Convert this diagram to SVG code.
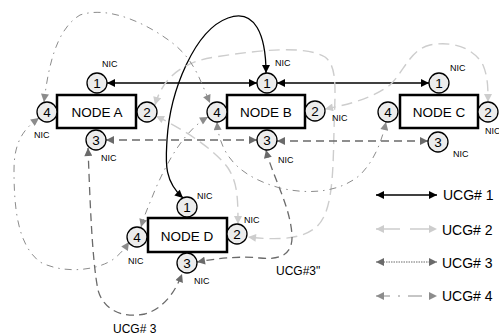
<svg xmlns="http://www.w3.org/2000/svg" width="499" height="336" viewBox="0 0 499 336">
  <style>
    text { font-family: "Liberation Sans", Arial, sans-serif; fill: #000; }
    .box { fill: #fff; stroke: #000; stroke-width: 2.5; }
    .nic { fill: #ececec; stroke: #000; stroke-width: 1.3; }
    .num { font-size: 13.5px; text-anchor: middle; }
    .name { font-size: 13.5px; text-anchor: middle; }
    .lbl { font-size: 9px; }
    .key { font-size: 14px; }
    .tag { font-size: 12px; }
    .u1 { fill: none; stroke: #000; stroke-width: 1.3; marker-start: url(#a1); marker-end: url(#a1); }
    .u2 { fill: none; stroke: #cdcdcd; stroke-width: 1.4; stroke-dasharray: 11 6; marker-start: url(#a2); marker-end: url(#a2); }
    .u3 { fill: none; stroke: #6a6a6a; stroke-width: 1.3; stroke-dasharray: 8 5; marker-start: url(#a3); marker-end: url(#a3); }
    .u4 { fill: none; stroke: #8c8c8c; stroke-width: 1; stroke-dasharray: 7 5 1.5 5; marker-start: url(#a4); marker-end: url(#a4); }
  </style>
  <defs>
    <marker id="a1" viewBox="0 0 10 10" refX="10" refY="5" markerWidth="10" markerHeight="8" markerUnits="userSpaceOnUse" orient="auto-start-reverse">
      <path d="M0,0 L10,5 L0,10 z" fill="#000"/>
    </marker>
    <marker id="a2" viewBox="0 0 10 10" refX="10" refY="5" markerWidth="10" markerHeight="8" markerUnits="userSpaceOnUse" orient="auto-start-reverse">
      <path d="M0,0 L10,5 L0,10 z" fill="#cdcdcd"/>
    </marker>
    <marker id="a3" viewBox="0 0 10 10" refX="10" refY="5" markerWidth="10" markerHeight="8" markerUnits="userSpaceOnUse" orient="auto-start-reverse">
      <path d="M0,0 L10,5 L0,10 z" fill="#6a6a6a"/>
    </marker>
    <marker id="a4" viewBox="0 0 10 10" refX="10" refY="5" markerWidth="10" markerHeight="8" markerUnits="userSpaceOnUse" orient="auto-start-reverse">
      <path d="M0,0 L10,5 L0,10 z" fill="#8c8c8c"/>
    </marker>
  </defs>

  <g id="connectors">
    <!-- UCG#1 -->
    <path class="u1" d="M107,83 H257"/>
    <path class="u1" d="M277,83 H429"/>
    <path class="u1" d="M183,198 C163,180 166,160 167,140 C170,90 195,30 228,18 C255,8 266,35 266,73"/>
    <!-- UCG#2 -->
    <path class="u2" d="M155,105 C162,80 180,62 215,57 C260,50 305,45 325,57 C338,67 335,90 334,130 C333,180 332,215 315,228 C300,240 275,240 248,237"/>
    <path class="u2" d="M325,109 C345,105 370,100 390,85 C405,70 410,50 430,45 C455,40 475,50 483,65 C488,77 488,88 488,102"/>
    <path class="u2" d="M156,116 C185,130 215,150 228,168 C237,182 238,195 238,224"/>
    <!-- UCG#3 -->
    <path class="u3" d="M106,140 H257"/>
    <path class="u3" d="M277,141 H428"/>
    <path class="u3" d="M88,148 C90,200 92,260 98,290 C104,312 125,318 145,314 C165,308 176,290 182,274"/>
    <path class="u3" d="M266,150 C272,175 290,205 292,235 C293,255 280,260 260,258 C240,256 220,258 197,262"/>
    <!-- UCG#4 -->
    <path class="u4" d="M44,102 C48,70 55,30 80,15 C110,5 150,25 175,45 C195,62 200,80 210,103"/>
    <path class="u4" d="M39,118 C25,128 14,140 14,170 C14,210 18,245 40,262 C65,275 100,270 115,258 C122,252 125,248 129,242"/>
    <path class="u4" d="M208,117 C185,130 168,160 155,190 C150,203 145,213 141,227"/>
    <path class="u4" d="M217,122 C220,160 245,178 280,188 C310,195 340,192 360,175 C375,160 382,140 386,122"/>
  </g>

  <g id="node-a">
    <rect class="box" x="57" y="95" width="79" height="33"/>
    <text class="name" x="97" y="116.5">NODE A</text>
    <circle class="nic" cx="97" cy="83" r="10"/><text class="num" x="97" y="88">1</text>
    <circle class="nic" cx="147" cy="112" r="10"/><text class="num" x="147" y="117">2</text>
    <circle class="nic" cx="96" cy="140" r="10"/><text class="num" x="96" y="145">3</text>
    <circle class="nic" cx="47" cy="112" r="10"/><text class="num" x="47" y="117">4</text>
    <text class="lbl" x="102" y="67">NIC</text>
    <text class="lbl" x="34" y="138">NIC</text>
    <text class="lbl" x="101" y="161">NIC</text>
  </g>

  <g id="node-b">
    <rect class="box" x="227" y="95" width="78" height="33"/>
    <text class="name" x="266" y="116.5">NODE B</text>
    <circle class="nic" cx="267" cy="83" r="10"/><text class="num" x="267" y="88">1</text>
    <circle class="nic" cx="315" cy="111" r="10"/><text class="num" x="315" y="116">2</text>
    <circle class="nic" cx="267" cy="140" r="10"/><text class="num" x="267" y="145">3</text>
    <circle class="nic" cx="217" cy="112" r="10"/><text class="num" x="217" y="117">4</text>
    <text class="lbl" x="275" y="66">NIC</text>
    <text class="lbl" x="332" y="121">NIC</text>
    <text class="lbl" x="278" y="163">NIC</text>
  </g>

  <g id="node-c">
    <rect class="box" x="400" y="95" width="78" height="33"/>
    <text class="name" x="439" y="116.5">NODE C</text>
    <circle class="nic" cx="439" cy="83" r="10"/><text class="num" x="439" y="88">1</text>
    <circle class="nic" cx="488" cy="112" r="10"/><text class="num" x="488" y="117">2</text>
    <circle class="nic" cx="438" cy="142" r="10"/><text class="num" x="438" y="147">3</text>
    <circle class="nic" cx="388" cy="112" r="10"/><text class="num" x="388" y="117">4</text>
    <text class="lbl" x="450" y="71">NIC</text>
    <text class="lbl" x="485" y="134">NIC</text>
    <text class="lbl" x="453" y="157">NIC</text>
  </g>

  <g id="node-d">
    <rect class="box" x="148" y="218" width="79" height="34"/>
    <text class="name" x="187" y="240.5">NODE D</text>
    <circle class="nic" cx="187" cy="207" r="10"/><text class="num" x="187" y="212">1</text>
    <circle class="nic" cx="237" cy="234" r="10"/><text class="num" x="237" y="239">2</text>
    <circle class="nic" cx="187" cy="263" r="10"/><text class="num" x="187" y="268">3</text>
    <circle class="nic" cx="137" cy="237" r="10"/><text class="num" x="137" y="242">4</text>
    <text class="lbl" x="197" y="199">NIC</text>
    <text class="lbl" x="244" y="223">NIC</text>
    <text class="lbl" x="128" y="264">NIC</text>
    <text class="lbl" x="194" y="284">NIC</text>
  </g>

  <g id="path-labels">
    <text class="tag" x="276" y="275">UCG#3"</text>
    <text class="tag" x="113" y="333">UCG# 3</text>
  </g>

  <g id="legend">
    <path class="u1" d="M376,195 H437"/>
    <text class="key" x="443" y="200">UCG# 1</text>
    <path class="u2" d="M376,229 H437" style="stroke-dasharray: 24 10"/>
    <text class="key" x="442" y="235">UCG# 2</text>
    <path class="u3" d="M376,262 H437" style="stroke-dasharray: 1.5 1; stroke-width: 1"/>
    <text class="key" x="442" y="268">UCG# 3</text>
    <path class="u4" d="M376,296 H437" style="stroke-dasharray: 14 8 2 8"/>
    <text class="key" x="442" y="301">UCG# 4</text>
  </g>
</svg>
